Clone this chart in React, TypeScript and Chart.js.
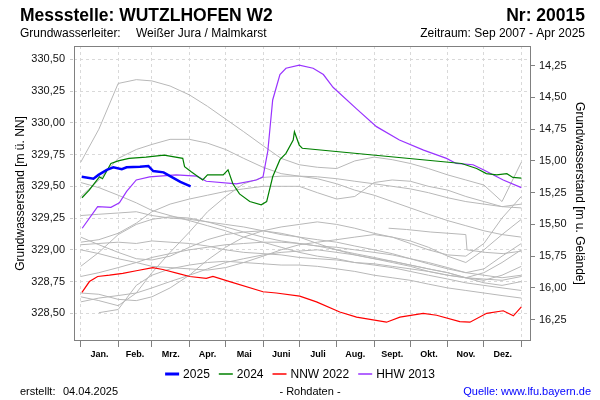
import React, { useEffect, useRef } from 'react';
import { Chart, registerables } from 'chart.js';

Chart.register(...registerables);

const FONT = '"Liberation Sans", Arial, Helvetica, sans-serif';

// ---- axes ----
const monthStarts = [0, 31, 59, 90, 120, 151, 181, 212, 243, 273, 304, 334, 365];
const monthMids = [15.5, 45, 74.5, 105, 135.5, 166, 196.5, 227.5, 258, 288.5, 319, 349.5];
const monthLabels = ['Jan.', 'Feb.', 'Mrz.', 'Apr.', 'Mai', 'Juni', 'Juli', 'Aug.', 'Sept.', 'Okt.', 'Nov.', 'Dez.'];
const leftTicks = [328.5, 328.75, 329.0, 329.25, 329.5, 329.75, 330.0, 330.25, 330.5];
const rightTicks = [14.25, 14.5, 14.75, 15.0, 15.25, 15.5, 15.75, 16.0, 16.25];
const groundLevel = 344.7;
const yMin = 328.282;
const yMax = 330.605;
const xMin = -5.6;
const xMax = 373;

// ---- highlighted series (day of year, m ü. NN) ----
const days2025 = [0.8, 10.5, 14.7, 21.6, 27, 34, 38, 49, 56, 60, 68.6, 74, 82.5, 91];
const values2025 = [329.575, 329.56, 329.59, 329.63, 329.65, 329.635, 329.65, 329.655, 329.66, 329.62, 329.61, 329.58, 329.535, 329.5];

const days2024 = [1, 7, 15.5, 18, 25, 31, 40, 54, 69, 84.5, 86, 91.5, 101, 105, 118, 122, 126, 131.5, 140, 149.5, 154, 159, 165, 170, 176, 177, 181, 183.5, 315.5, 328, 336, 344.5, 353, 358, 365];
const values2024 = [329.41, 329.47, 329.575, 329.56, 329.68, 329.7, 329.72, 329.73, 329.745, 329.72, 329.655, 329.615, 329.55, 329.59, 329.59, 329.63, 329.52, 329.44, 329.38, 329.355, 329.38, 329.575, 329.71, 329.76, 329.865, 329.93, 329.825, 329.8, 329.68, 329.64, 329.6, 329.59, 329.6, 329.57, 329.565];

const daysNNW2022 = [1, 7.2, 14, 23.8, 34.8, 46, 59.7, 68, 81.9, 90.2, 104, 109.5, 123.4, 151, 162, 181.4, 195.3, 214.6, 228.5, 253.3, 264.4, 283.7, 294.8, 314, 322.4, 336.3, 350, 358.4, 365];
const valuesNNW2022 = [328.665, 328.75, 328.79, 328.8, 328.815, 328.835, 328.86, 328.845, 328.81, 328.79, 328.775, 328.79, 328.75, 328.67, 328.66, 328.635, 328.59, 328.51, 328.47, 328.43, 328.47, 328.5, 328.485, 328.435, 328.43, 328.5, 328.52, 328.48, 328.55];

const daysHHW2013 = [1.2, 14, 25, 32, 38, 46, 57, 79, 96, 104, 129, 145.5, 151, 155, 159, 165, 170, 181, 192.5, 201, 209, 228.5, 245, 264, 284, 303, 311, 325, 333.5, 350, 365];
const valuesHHW2013 = [329.17, 329.34, 329.335, 329.37, 329.46, 329.55, 329.575, 329.59, 329.58, 329.54, 329.52, 329.55, 329.575, 329.78, 330.18, 330.38, 330.43, 330.455, 330.43, 330.38, 330.28, 330.11, 329.97, 329.865, 329.785, 329.72, 329.68, 329.67, 329.63, 329.55, 329.49];

// ---- other years (grey) ----
const grayDays = [0, 15, 31, 46, 59, 74, 90, 105, 120, 135, 151, 166, 181, 196, 212, 227, 243, 258, 273, 288, 304, 319, 334, 349, 365];
const gray2008 = [null, 328.505, 328.53, 328.72, 328.8, 328.85, 328.88, 328.9, 328.91, 328.9, 328.89, 328.88, 328.88, 328.87, 328.85, 328.83, 328.8, 328.78, 328.76, 328.73, 328.7, 328.68, 328.66, 328.64, 328.62];
const gray2009 = [329.69, 329.95, 330.31, 330.34, 330.33, 330.29, 330.22, 330.13, 330.03, 329.93, 329.82, 329.72, 329.67, 329.65, 329.64, 329.7, 329.73, 329.71, 329.68, 329.64, 329.59, 329.55, 329.51, 329.38, 329.69];
const gray2010 = [329.04, 329.05, 329.06, 329.05, 329.07, 329.06, 329.05, 329.03, 329.0, 328.98, 328.97, 328.96, 328.94, 328.93, 328.92, 328.9, 328.89, 328.87, 328.85, 328.83, 328.8, 328.78, 328.77, 328.76, 328.79];
const gray2011 = [329.42, 329.55, 329.72, 329.79, 329.83, 329.87, 329.87, 329.84, 329.79, 329.72, 329.65, 329.6, 329.58, 329.575, 329.56, 329.54, 329.52, 329.5, 329.48, 329.45, 329.41, 329.38, 329.36, 329.34, 329.33];
const gray2012 = [328.63, 328.6, 328.56, 328.66, 328.82, 328.98, 329.14, 329.3, 329.42, 329.52, 329.57, 329.58, 329.58, 329.56, 329.52, 329.47, 329.43, 329.38, 329.33, 329.28, 329.23, 329.19, 329.15, 329.12, 329.1];
const gray2014 = [329.53, 329.49, 329.43, 329.37, 329.31, 329.27, 329.23, 329.19, 329.15, 329.1, 329.06, 329.02, 328.98, 328.95, 328.93, 328.9, 328.88, 328.86, 328.83, 328.8, 328.77, 328.74, 328.72, 328.7, 328.68];
const gray2015 = [328.87, 328.98, 329.12, 329.2, 329.24, 329.26, 329.25, 329.22, 329.18, 329.14, 329.1, 329.07, 329.05, 329.03, 329.02, 329.0, 328.98, 328.96, 328.93, 328.9, 328.86, 328.82, 328.8, 328.78, 328.8];
const gray2016 = [329.06, 329.08, 329.13, 329.21, 329.3, 329.36, 329.4, 329.43, 329.46, 329.48, 329.5, 329.5, 329.5, 329.45, 329.4, 329.42, 329.53, 329.55, 329.54, 329.5, 329.47, 329.42, 329.38, 329.34, 329.36];
const gray2017 = [328.79, 328.82, 328.86, 328.9, 328.94, 328.97, 329.0, 329.02, 329.04, 329.05, 329.06, 329.06, 329.05, 329.03, 329.0, 328.97, 328.94, 328.91, 328.88, 328.85, 328.82, 328.78, 328.76, 328.8, 328.87];
const gray2018 = [328.59, 328.62, 328.64, 328.66, 328.7, 328.75, 328.8, 328.85, 328.9, 328.93, 328.96, 328.98, 328.99, 329.0, 328.98, 328.96, 328.93, 328.91, 328.88, 328.85, 328.82, 328.78, 328.74, 328.72, 328.75];
const gray2019 = [329.27, 329.28, 329.29, 329.3, 329.27, 329.25, 329.24, 329.22, 329.2, 329.18, 329.15, 329.12, 329.1, 329.08, 329.06, 329.03, 329.0, 328.97, 328.93, 328.89, 328.85, 328.82, 328.85, 328.95, 329.05];
const gray2020 = [329.1, 329.04, 328.98, 328.93, 328.92, 328.95, 329.02, 329.08, 329.12, 329.14, 329.15, 329.13, 329.1, 329.05, 329.0, 328.96, 328.93, 328.9, 328.87, 328.83, 328.8, 328.78, 328.82, 328.9, 329.0];
const gray2021 = [329.0, 328.97, 328.93, 328.9, 328.87, 328.86, 328.85, 328.84, 328.86, 328.9, 328.95, 329.0, 329.04, 329.06, 329.08, 329.1, 329.12, 329.1, 329.07, 329.02, 328.95, 328.9, 329.0, 329.12, 329.24];
const gray2023 = [328.66, 328.65, 328.61, 328.6, 328.63, 328.7, 328.8, 328.92, 329.02, 329.1, 329.15, 329.18, 329.2, 329.22, 329.2, 329.17, 329.13, 329.1, 329.05, 329.0, 328.96, 328.95, 329.05, 329.25, 329.42];
const days2007 = [255, 270, 290, 305, 319, 320, 335, 350, 365];
const values2007 = [329.17, 329.16, 329.14, 329.13, 329.12, 329.0, 328.98, 328.97, 328.99];

const grayYears = [gray2008, gray2009, gray2010, gray2011, gray2012, gray2014, gray2015, gray2016, gray2017, gray2018, gray2019, gray2020, gray2021, gray2023];

const COLORS = { y2025: '#0000ff', y2024: '#008000', nnw: '#ff0000', hhw: '#9933ff', gray: '#b8b8b8' };

function pts(days: number[], vals: (number | null)[]) {
  return days.map((d, i) => ({ x: d, y: vals[i] }));
}
const fmt = (v: number) => v.toFixed(2).replace('.', ',');

const legendItems = [
  { label: '2025', color: COLORS.y2025, width: 3 },
  { label: '2024', color: COLORS.y2024, width: 1.5 },
  { label: 'NNW 2022', color: COLORS.nnw, width: 1.5 },
  { label: 'HHW 2013', color: COLORS.hhw, width: 1.5 },
];

const decorPlugin = {
  id: 'decor',
  afterDraw(chart: any) {
    const ctx = chart.ctx as CanvasRenderingContext2D;
    const ca = chart.chartArea;
    ctx.save();
    // frame
    ctx.strokeStyle = '#808080';
    ctx.lineWidth = 1;
    ctx.setLineDash([]);
    ctx.strokeRect(Math.round(ca.left) + 0.5, Math.round(ca.top) + 0.5, Math.round(ca.right - ca.left) - 1, Math.round(ca.bottom - ca.top) - 1);

    ctx.fillStyle = '#000';
    ctx.textBaseline = 'alphabetic';
    ctx.font = `bold 17.5px ${FONT}`;
    ctx.textAlign = 'left';
    ctx.fillText('Messstelle: WUTZLHOFEN W2', 20, 21);
    ctx.textAlign = 'right';
    ctx.fillText('Nr: 20015', 585, 21);

    ctx.font = `12px ${FONT}`;
    ctx.textAlign = 'left';
    ctx.fillText('Grundwasserleiter:', 20, 37);
    ctx.fillText('Weißer Jura / Malmkarst', 136, 37);
    ctx.textAlign = 'right';
    ctx.fillText('Zeitraum: Sep 2007 - Apr 2025', 585, 37);

    // axis titles
    const cy = (ca.top + ca.bottom) / 2;
    ctx.textAlign = 'center';
    ctx.textBaseline = 'middle';
    ctx.font = `12px ${FONT}`;
    ctx.save();
    ctx.translate(21, cy);
    ctx.rotate(-Math.PI / 2);
    ctx.fillText('Grundwasserstand [m ü. NN]', 0, 0);
    ctx.restore();
    ctx.save();
    ctx.translate(579, cy);
    ctx.rotate(Math.PI / 2);
    ctx.fillText('Grundwasserstand [m u. Gelände]', 0, 0);
    ctx.restore();

    // legend
    ctx.font = `12px ${FONT}`;
    const lineW = 14, gap = 4, spacing = 9;
    const widths = legendItems.map((it) => lineW + gap + ctx.measureText(it.label).width);
    const total = widths.reduce((a, b) => a + b, 0) + spacing * (legendItems.length - 1);
    let x = 300 - total / 2;
    const ly = 374;
    legendItems.forEach((it, i) => {
      ctx.strokeStyle = it.color;
      ctx.lineWidth = it.width;
      ctx.beginPath();
      ctx.moveTo(x, ly);
      ctx.lineTo(x + lineW, ly);
      ctx.stroke();
      ctx.fillStyle = '#000';
      ctx.textAlign = 'left';
      ctx.textBaseline = 'middle';
      ctx.fillText(it.label, x + lineW + gap, ly + 0.5);
      x += widths[i] + spacing;
    });

    // footer
    ctx.font = `11px ${FONT}`;
    ctx.textBaseline = 'alphabetic';
    ctx.fillStyle = '#000';
    ctx.textAlign = 'left';
    ctx.fillText('erstellt:', 20, 395);
    ctx.fillText('04.04.2025', 63, 395);
    ctx.textAlign = 'center';
    ctx.fillText('- Rohdaten -', 310, 395);
    ctx.textAlign = 'right';
    ctx.fillStyle = '#0000ff';
    ctx.fillText('Quelle: www.lfu.bayern.de', 591, 395);
    ctx.restore();
  },
};

export default function App() {
  const ref = useRef<HTMLCanvasElement | null>(null);
  useEffect(() => {
    if (!ref.current) return;
    Chart.defaults.font.family = FONT;
    const isStart = (v: number) => monthStarts.includes(v);
    const grayDatasets = grayYears.map((vals, i) => ({
      label: 'gray' + i,
      data: pts(grayDays, vals).filter((p) => p.y !== null),
      borderColor: COLORS.gray,
      borderWidth: 1,
      pointRadius: 0,
      order: 10,
    }));
    grayDatasets.push({
      label: 'gray2007',
      data: pts(days2007, values2007),
      borderColor: COLORS.gray,
      borderWidth: 1,
      pointRadius: 0,
      order: 10,
    });
    const chart = new Chart(ref.current, {
      type: 'line',
      data: {
        datasets: [
          { label: '2025', data: pts(days2025, values2025), borderColor: COLORS.y2025, borderWidth: 2.5, pointRadius: 0, order: 1 },
          { label: '2024', data: pts(days2024, values2024), borderColor: COLORS.y2024, borderWidth: 1.2, pointRadius: 0, order: 2 },
          { label: 'HHW 2013', data: pts(daysHHW2013, valuesHHW2013), borderColor: COLORS.hhw, borderWidth: 1.2, pointRadius: 0, order: 3 },
          { label: 'NNW 2022', data: pts(daysNNW2022, valuesNNW2022), borderColor: COLORS.nnw, borderWidth: 1.2, pointRadius: 0, order: 4 },
          ...grayDatasets,
        ] as any,
      },
      options: {
        animation: false,
        responsive: false,
        devicePixelRatio: 1,
        events: [],
        layout: { padding: { top: 46, bottom: 28, left: 0, right: 0 } },
        elements: { line: { tension: 0 }, point: { radius: 0 } },
        plugins: { legend: { display: false }, tooltip: { enabled: false } },
        scales: {
          x: {
            type: 'linear',
            min: xMin,
            max: xMax,
            afterBuildTicks: (s: any) => {
              s.ticks = [...monthStarts, ...monthMids].sort((a, b) => a - b).map((v) => ({ value: v }));
            },
            afterFit: (s: any) => { s.height = 31; },
            ticks: {
              autoSkip: false,
              maxRotation: 0,
              padding: 2,
              color: '#000',
              font: { size: 9, weight: 'bold' },
              callback: (v: any) => {
                const i = monthMids.indexOf(Number(v));
                return i >= 0 ? monthLabels[i] : '';
              },
            },
            grid: {
              color: (c: any) => (c.tick && isStart(c.tick.value) ? '#d9d9d9' : 'rgba(0,0,0,0)'),
              tickColor: (c: any) => (c.tick && isStart(c.tick.value) ? '#808080' : 'rgba(0,0,0,0)'),
              tickLength: 6,
              tickBorderDash: [],
              lineWidth: 1,
            },
            border: { display: false, dash: [3, 3] },
          },
          y: {
            type: 'linear',
            position: 'left',
            min: yMin,
            max: yMax,
            afterBuildTicks: (s: any) => { s.ticks = leftTicks.map((v) => ({ value: v })); },
            afterFit: (s: any) => { s.width = 74; },
            ticks: { padding: 5, color: '#111', font: { size: 11 }, callback: (v: any) => fmt(Number(v)) },
            grid: { color: '#d9d9d9', tickColor: '#c8c8c8', tickLength: 4, tickBorderDash: [3, 3] },
            border: { display: false, dash: [3, 3] },
          },
          y2: {
            type: 'linear',
            position: 'right',
            reverse: true,
            min: groundLevel - yMax,
            max: groundLevel - yMin,
            afterBuildTicks: (s: any) => { s.ticks = rightTicks.map((v) => ({ value: v })); },
            afterFit: (s: any) => { s.width = 69; },
            ticks: { padding: 4, color: '#111', font: { size: 11 }, callback: (v: any) => fmt(Number(v)) },
            grid: { drawOnChartArea: false, tickColor: '#808080', tickLength: 4 },
            border: { display: false },
          },
        },
      } as any,
      plugins: [decorPlugin],
    });
    return () => chart.destroy();
  }, []);
  return (
    <div style={{ position: 'fixed', left: 0, top: 0, width: 600, height: 400, background: '#fff' }}>
      <canvas ref={ref} width={600} height={400} style={{ width: 600, height: 400, display: 'block' }} />
    </div>
  );
}
